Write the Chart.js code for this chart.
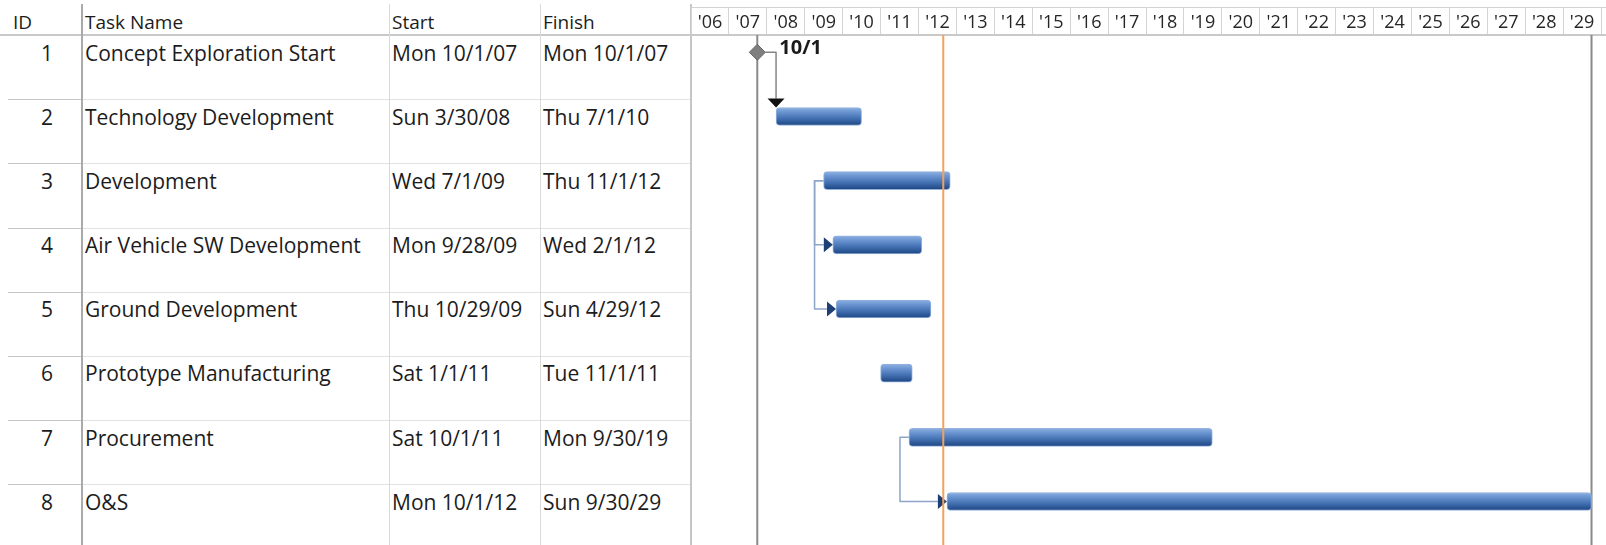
<!DOCTYPE html>
<html>
<head>
<meta charset="utf-8">
<title>Program schedule</title>
<script src="https://cdn.jsdelivr.net/npm/chart.js@4.4.1/dist/chart.umd.min.js"></script>
<style>
  html, body { margin: 0; padding: 0; background: #fff; }
  body { width: 1606px; height: 545px; position: relative; overflow: hidden;
         font-family: "Open Sans", sans-serif; color: #1c1c1c; }
  #table { position: absolute; left: 0; top: 0; width: 691px; height: 545px; }
  .cell { position: absolute; white-space: nowrap; font-size: 21px; line-height: 28px; }
  .hdr { font-size: 19px; line-height: 26px; }
  .ln { position: absolute; }
  #gantt { position: absolute; left: 691px; top: 0; width: 915px; height: 545px; }
</style>
</head>
<body>
<div id="table"></div>
<div id="gantt"><canvas id="ganttChart" width="915" height="545"></canvas></div>
<script>
// task table
const taskIds = [1, 2, 3, 4, 5, 6, 7, 8];
const taskNames = ["Concept Exploration Start", "Technology Development", "Development",
  "Air Vehicle SW Development", "Ground Development", "Prototype Manufacturing",
  "Procurement", "O&S"];
const startLabels = ["Mon 10/1/07", "Sun 3/30/08", "Wed 7/1/09", "Mon 9/28/09",
  "Thu 10/29/09", "Sat 1/1/11", "Sat 10/1/11", "Mon 10/1/12"];
const finishLabels = ["Mon 10/1/07", "Thu 7/1/10", "Thu 11/1/12", "Wed 2/1/12",
  "Sun 4/29/12", "Tue 11/1/11", "Mon 9/30/19", "Sun 9/30/29"];

// same dates, for the bars
const startDates = ["2007-10-01", "2008-03-30", "2009-07-01", "2009-09-28",
  "2009-10-29", "2011-01-01", "2011-10-01", "2012-10-01"];
const finishDates = ["2007-10-01", "2010-07-01", "2012-11-01", "2012-02-01",
  "2012-04-29", "2011-11-01", "2019-09-30", "2029-09-30"];

// predecessor links: [from, to, type]
const links = [[1, 2, "FS"], [3, 4, "SS"], [3, 5, "SS"], [7, 8, "SS"]];

// timescale
const yearLabels = ["'06", "'07", "'08", "'09", "'10", "'11", "'12", "'13", "'14", "'15",
  "'16", "'17", "'18", "'19", "'20", "'21", "'22", "'23", "'24", "'25", "'26", "'27", "'28", "'29"];
const firstYear = 2006;
const timelineEnd = 2030.13;
const projectStart = "2007-10-01";
const projectFinish = "2029-09-30";
const statusDate = "2012-08-27";

// layout
const HEADER_H = 35;
const ROW_H = 64.17;
const BAR_H = 18;

// ---- table (plain html) ----
const table = document.getElementById("table");

function addDiv(cls, css, text) {
  const d = document.createElement("div");
  d.className = cls;
  d.style.cssText = css;
  if (text !== undefined) d.textContent = text;
  table.appendChild(d);
  return d;
}

// header
addDiv("cell hdr", "left:13px;top:9px;", "ID");
addDiv("cell hdr", "left:85px;top:9px;", "Task Name");
addDiv("cell hdr", "left:392px;top:9px;", "Start");
addDiv("cell hdr", "left:543px;top:9px;", "Finish");
addDiv("ln", "left:0;top:34px;width:691px;height:2px;background:#c9c9c9;");

taskIds.forEach((id, i) => {
  const top = HEADER_H + i * ROW_H;
  const ty = (top + 3.5).toFixed(1);
  addDiv("cell", `left:0;width:53px;text-align:right;top:${ty}px;`, String(id));
  addDiv("cell", `left:85px;top:${ty}px;`, taskNames[i]);
  addDiv("cell", `left:392px;top:${ty}px;`, startLabels[i]);
  addDiv("cell", `left:543px;top:${ty}px;`, finishLabels[i]);
  if (i > 0) {
    const ly = Math.round(top);
    addDiv("ln", `left:8px;top:${ly}px;width:74px;height:1px;background:#c4c4c4;`);
    addDiv("ln", `left:82px;top:${ly}px;width:609px;height:1px;background:#e2e2e2;`);
  }
});

// column separators
addDiv("ln", "left:81px;top:4px;width:2px;height:541px;background:#aaaaaa;");
addDiv("ln", "left:389px;top:4px;width:1px;height:541px;background:#d9d9d9;");
addDiv("ln", "left:540px;top:4px;width:1px;height:541px;background:#d9d9d9;");
addDiv("ln", "left:690px;top:4px;width:2px;height:541px;background:#c6c6c6;");

// ---- gantt (chart.js) ----
function toYear(s, endOfDay) {
  const [y, m, d] = s.split("-").map(Number);
  const t0 = Date.UTC(y, 0, 1), t1 = Date.UTC(y + 1, 0, 1);
  const t = Date.UTC(y, m - 1, d) + (endOfDay ? 86400000 : 0);
  return y + (t - t0) / (t1 - t0);
}

const barData = [];
const milestoneData = [];
taskIds.forEach((id, i) => {
  if (startDates[i] === finishDates[i]) {
    milestoneData.push({ x: toYear(startDates[i]), y: id });
  } else {
    barData.push({ x: [toYear(startDates[i]), toYear(finishDates[i], true)], y: id });
  }
});

function barGradient(c) {
  const ys = c.chart.scales.y;
  if (!ys || c.type !== "data" || !c.raw) return "#4f7cbf";
  const yc = ys.getPixelForValue(c.raw.y);
  if (!isFinite(yc)) return "#4f7cbf";
  const g = c.chart.ctx.createLinearGradient(0, yc - BAR_H / 2, 0, yc + BAR_H / 2);
  g.addColorStop(0, "#8cb0e2");
  g.addColorStop(0.3, "#6590cd");
  g.addColorStop(0.65, "#3f6cae");
  g.addColorStop(1, "#1c4580");
  return g;
}

function taskStartPx(chart, id) {
  return chart.scales.x.getPixelForValue(toYear(startDates[id - 1]));
}
function taskFinishPx(chart, id) {
  const i = id - 1;
  if (startDates[i] === finishDates[i]) return chart.scales.x.getPixelForValue(toYear(startDates[i])) + 8;
  return chart.scales.x.getPixelForValue(toYear(finishDates[i], true));
}

function vline(ctx, area, px, color, width) {
  ctx.strokeStyle = color;
  ctx.lineWidth = width;
  ctx.beginPath();
  ctx.moveTo(px, area.top);
  ctx.lineTo(px, area.bottom);
  ctx.stroke();
}

const ganttDecor = {
  id: "ganttDecor",
  beforeDatasetsDraw(chart) {
    const { ctx, chartArea, scales: { x, y } } = chart;
    ctx.save();
    // header top edge
    ctx.strokeStyle = "#d2d2d2";
    ctx.lineWidth = 1;
    ctx.beginPath();
    ctx.moveTo(x.left, x.bottom - 27.5);
    ctx.lineTo(x.right, x.bottom - 27.5);
    ctx.stroke();

    // project start / finish
    vline(ctx, chartArea, x.getPixelForValue(toYear(projectStart)), "#8a8a8a", 2);
    vline(ctx, chartArea, x.getPixelForValue(toYear(projectFinish, true)), "#8a8a8a", 2);

    // link lines
    ctx.lineJoin = "round";
    links.forEach(([from, to, type]) => {
      const yp = y.getPixelForValue(from);
      const ys = y.getPixelForValue(to);
      ctx.beginPath();
      if (type === "FS") {
        const xp = taskFinishPx(chart, from);
        const xs = taskStartPx(chart, to);
        ctx.strokeStyle = "#858585";
        ctx.lineWidth = 1.5;
        ctx.moveTo(xp, yp);
        ctx.lineTo(xs, yp);
        ctx.lineTo(xs, ys - BAR_H / 2 - 9);
      } else {
        const xp = taskStartPx(chart, from);
        const xs = taskStartPx(chart, to);
        ctx.strokeStyle = "#8ea5ca";
        ctx.lineWidth = 1.5;
        ctx.moveTo(xp, yp);
        ctx.lineTo(xp - 9, yp);
        ctx.lineTo(xp - 9, ys);
        ctx.lineTo(xs - 9, ys);
      }
      ctx.stroke();
    });
    ctx.restore();
  },
  afterDatasetsDraw(chart) {
    const { ctx, chartArea, scales: { x, y } } = chart;
    ctx.save();
    // arrow heads
    links.forEach(([from, to, type]) => {
      const ys = y.getPixelForValue(to);
      const xs = taskStartPx(chart, to);
      ctx.beginPath();
      if (type === "FS") {
        const tip = ys - BAR_H / 2;
        ctx.fillStyle = "#111111";
        ctx.moveTo(xs, tip);
        ctx.lineTo(xs - 8.5, tip - 9);
        ctx.lineTo(xs + 8.5, tip - 9);
      } else {
        ctx.fillStyle = "#1e3f74";
        ctx.moveTo(xs, ys);
        ctx.lineTo(xs - 9, ys - 7.5);
        ctx.lineTo(xs - 9, ys + 7.5);
      }
      ctx.closePath();
      ctx.fill();
    });

    // milestone date label
    ctx.fillStyle = "#1a1a1a";
    ctx.font = "bold 20px 'Open Sans'";
    ctx.textAlign = "left";
    ctx.textBaseline = "middle";
    milestoneData.forEach((p) => {
      const i = p.y - 1;
      const md = startDates[i].split("-").map(Number);
      ctx.fillText(md[1] + "/" + md[2], x.getPixelForValue(p.x) + 22, y.getPixelForValue(p.y) - 4);
    });

    // status date
    vline(ctx, chartArea, x.getPixelForValue(toYear(statusDate)), "#f4a15a", 2);
    ctx.restore();
  }
};

const ctx = document.getElementById("ganttChart").getContext("2d");
new Chart(ctx, {
  type: "bar",
  data: {
    datasets: [
      {
        type: "bar",
        data: barData,
        backgroundColor: barGradient,
        borderColor: "#93b2de",
        borderWidth: 1,
        borderRadius: 4,
        borderSkipped: false,
        barThickness: BAR_H
      },
      {
        type: "scatter",
        data: milestoneData,
        pointStyle: "rectRot",
        pointRadius: 8,
        backgroundColor: "#7f7f7f",
        borderColor: "#666666",
        borderWidth: 1
      }
    ]
  },
  options: {
    indexAxis: "y",
    responsive: false,
    animation: false,
    layout: { padding: 0, autoPadding: false },
    plugins: { legend: { display: false }, tooltip: { enabled: false } },
    scales: {
      x: {
        type: "linear",
        position: "top",
        offset: false,
        min: firstYear,
        max: timelineEnd,
        afterFit: (s) => { s.height = HEADER_H; },
        grid: { drawOnChartArea: false, tickLength: 28, color: "#d4d4d4", lineWidth: 1 },
        border: { color: "#c9c9c9", width: 2 },
        ticks: {
          stepSize: 1,
          includeBounds: false,
          autoSkip: false,
          maxRotation: 0,
          maxTicksLimit: 40,
          padding: -27,
          labelOffset: 18.96,
          color: "#262626",
          font: { family: "'Open Sans'", size: 18 },
          callback: (v) => yearLabels[Math.round(v) - firstYear] || ""
        }
      },
      y: {
        type: "linear",
        display: false,
        offset: false,
        reverse: true,
        min: 1 - 17.3 / ROW_H,
        max: 1 - 17.3 / ROW_H + (545 - HEADER_H) / ROW_H
      }
    }
  },
  plugins: [ganttDecor]
});
</script>
</body>
</html>
